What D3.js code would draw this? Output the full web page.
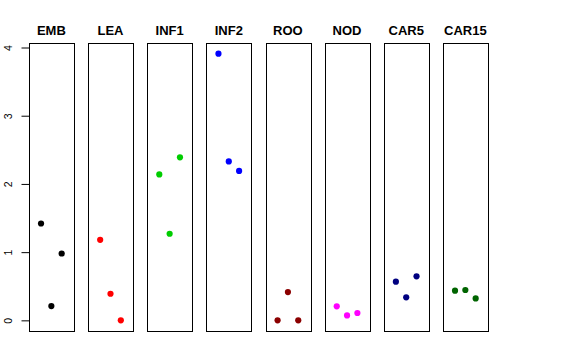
<!DOCTYPE html>
<html>
<head>
<meta charset="utf-8">
<script src="https://cdn.jsdelivr.net/npm/d3@7"></script>
<style>
html,body{margin:0;padding:0;background:#fff;}
svg{display:block;}
</style>
</head>
<body>
<svg id="chart" width="576" height="360"></svg>
<script>
const categories = ["EMB","LEA","INF1","INF2","ROO","NOD","CAR5","CAR15"];
const colors = ["#000000","#FF0000","#00CD00","#0000FF","#8B0000","#FF00FF","#000080","#006400"];
const values = [
  [1.42, 0.21, 0.98],
  [1.18, 0.39, 0.00],
  [2.14, 1.27, 2.39],
  [3.91, 2.33, 2.19],
  [0.00, 0.415, 0.00],
  [0.205, 0.073, 0.108],
  [0.567, 0.337, 0.645],
  [0.435, 0.445, 0.322]
];
const yTicks = [0, 1, 2, 3, 4];

(function () {
const svg = d3.select("#chart");
const plotTop = 43, plotBottom = 331;

const xBand = d3.scaleBand().domain(categories).range([29, 487.7]).paddingInner(0.244).paddingOuter(0);
const y = d3.scaleLinear().domain([-0.156, 4.066]).range([plotBottom, plotTop]);

categories.forEach((cat, i) => {
  const x0 = xBand(cat), w = xBand.bandwidth();
  const g = svg.append("g");
  const xIn = d3.scaleLinear().domain([2 - 2.165, 2 + 2.165]).range([x0, x0 + w]);
  g.append("rect")
    .attr("x", Math.round(x0) + 0.5).attr("y", plotTop + 0.5)
    .attr("width", Math.round(w)).attr("height", plotBottom - plotTop)
    .attr("fill", "none").attr("stroke", "#000").attr("stroke-width", 1);
  g.append("text")
    .attr("x", x0 + w / 2).attr("y", 34.5)
    .attr("text-anchor", "middle")
    .attr("font-family", "Liberation Sans, Arial, sans-serif")
    .attr("font-weight", "bold").attr("font-size", 13)
    .text(cat);
  g.selectAll("circle").data(values[i]).enter().append("circle")
    .attr("cx", (d, j) => xIn(j + 1))
    .attr("cy", d => y(d))
    .attr("r", 3.1)
    .attr("fill", colors[i]);
});

// y axis on first panel
const axisX = Math.round(xBand(categories[0])) + 0.5;
const axis = d3.axisLeft(y).tickValues(yTicks).tickSize(8).tickPadding(0).tickFormat(d3.format("d"));
const ag = svg.append("g").attr("transform", `translate(${axisX},0)`).call(axis);
ag.select(".domain").remove();
ag.selectAll(".tick line").attr("stroke", "#000");
ag.selectAll(".tick text")
  .attr("x", null).attr("dy", null)
  .attr("transform", "translate(-17.8,0) rotate(-90)")
  .attr("text-anchor", "middle")
  .attr("font-family", "Liberation Sans, Arial, sans-serif")
  .attr("font-size", 10.5)
  .attr("fill", "#000");
})();
</script>
</body>
</html>
